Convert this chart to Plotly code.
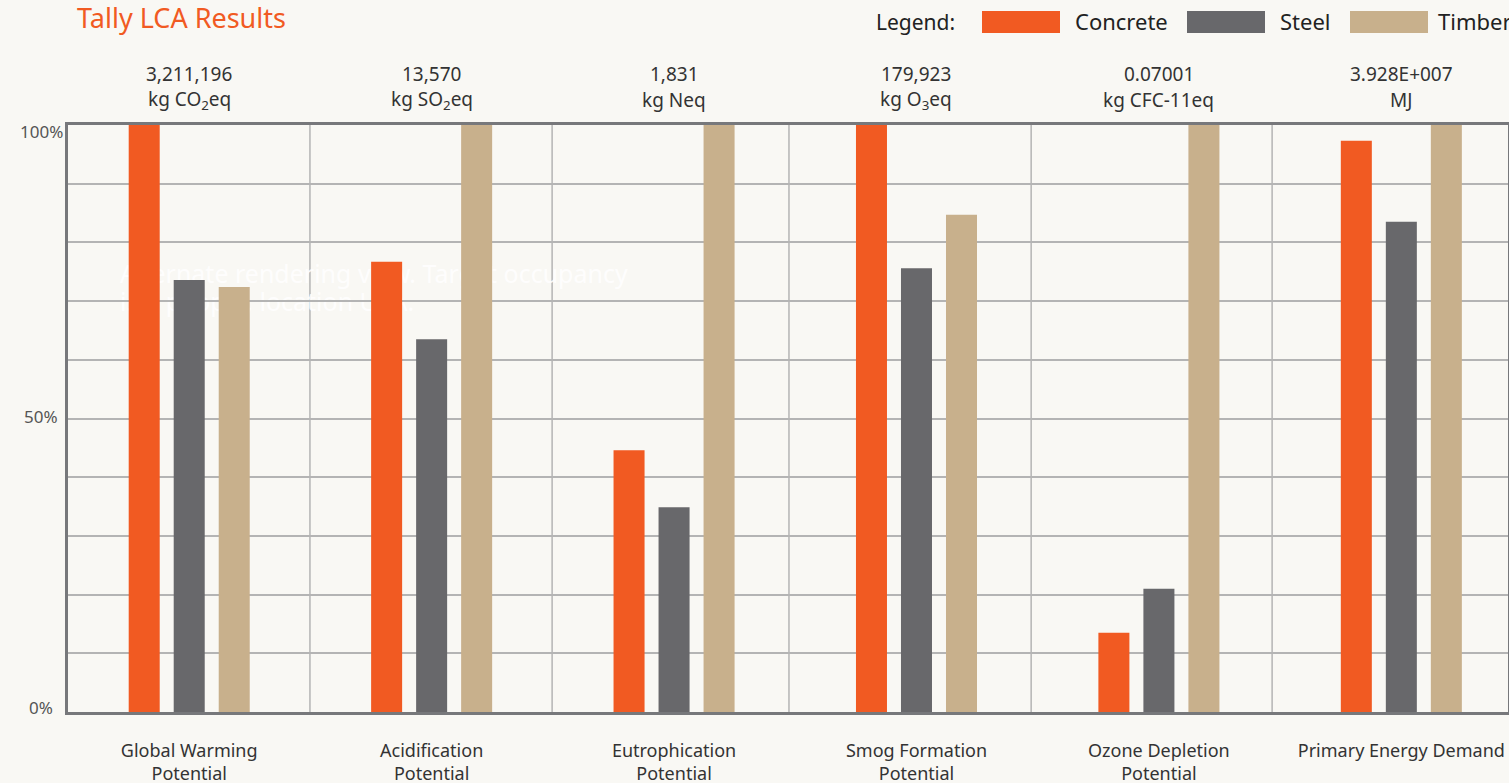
import plotly.graph_objects as go

categories = ["Global Warming<br>Potential", "Acidification<br>Potential", "Eutrophication<br>Potential",
              "Smog Formation<br>Potential", "Ozone Depletion<br>Potential", "Primary Energy Demand"]
totals = ["3,211,196", "13,570", "1,831", "179,923", "0.07001", "3.928E+007"]
units = ["kg CO<sub>2</sub>eq", "kg SO<sub>2</sub>eq", "kg Neq", "kg O<sub>3</sub>eq", "kg CFC-11eq", "MJ"]
concrete = [100, 76.7, 44.6, 100, 13.5, 97.3]
steel = [73.6, 63.5, 34.9, 75.6, 21.0, 83.5]
timber = [72.4, 100, 100, 84.7, 100, 100]
y_ticks = [0, 50, 100]
y_ticktext = ["0%", "50%", "100%"]
y_grid = [10, 20, 30, 40, 50, 60, 70, 80, 90]

series = [("Concrete", concrete, "#F15A22"), ("Steel", steel, "#68686B"), ("Timber", timber, "#C8B08C")]

# layout constants (category-divider lines, in axis units, as drawn in the original)
DIVIDERS = [0.498, 1.497, 2.474, 3.473, 4.467]
X_RANGE = [-0.5, 5.44]
TICK_SHIFT = [5, 2, -6]  # small vertical nudges of the y labels, as in the original

W, H = 1509, 783
L, R, T, B = 68, 1, 125, 71
PW, PH = W - L - R, H - T - B


def px(x):
    return (x - L) / PW


def py(y):
    return (H - B - y) / PH


BG = "#F9F8F4"
FONT = "Noto Sans"
xs = list(range(len(categories)))

fig = go.Figure()
for name, vals, col in series:
    fig.add_trace(go.Bar(x=xs, y=vals, name=name, marker=dict(color=col, line=dict(width=0)),
                         showlegend=False))

shapes = []
for d in DIVIDERS:
    shapes.append(dict(type="line", xref="x", yref="paper", x0=d, x1=d, y0=0, y1=1,
                       line=dict(color="#B4B4B4", width=1.5), layer="below"))

# watermark text (faint)
for txt, yy in [("Alternate rendering view. Target occupancy", 275), ("is 1 people, location USA.", 303)]:
    shapes.append(dict(type="rect", xref="paper", yref="paper", x0=px(117), x1=px(700), y0=py(yy - 14), y1=py(yy + 14),
                       line=dict(width=0), fillcolor="rgba(0,0,0,0)", layer="below",
                       label=dict(text=txt, textposition="middle left", padding=0,
                                  font=dict(family=FONT, size=25, color="rgba(255,255,255,0.85)"))))

annotations = []
for i in range(len(categories)):
    annotations.append(dict(x=i, xref="x", y=py(74), yref="paper", text=totals[i], showarrow=False,
                            font=dict(family=FONT, size=19, color="#333333"), xanchor="center", yanchor="middle"))
    annotations.append(dict(x=i, xref="x", y=py(100), yref="paper", text=units[i], showarrow=False,
                            font=dict(family=FONT, size=19, color="#333333"), xanchor="center", yanchor="middle"))

# y-axis labels (centred, as in the original)
for v, t, s in zip(y_ticks, y_ticktext, TICK_SHIFT):
    annotations.append(dict(x=px(41), xref="paper", y=v, yref="y", text=t, showarrow=False, yshift=s,
                            xanchor="center", yanchor="middle", font=dict(family=FONT, size=17, color="#555555")))

annotations.append(dict(x=px(75), y=py(18), xref="paper", yref="paper", text="Tally LCA Results", showarrow=False,
                        xanchor="left", yanchor="middle", font=dict(family=FONT, size=27, color="#F15A22")))
annotations.append(dict(x=px(874), y=py(22), xref="paper", yref="paper", text="Legend:", showarrow=False,
                        xanchor="left", yanchor="middle", font=dict(family=FONT, size=21, color="#222222")))
leg_pos = [(982, 1073), (1187, 1278), (1350, 1436)]
for (name, vals, col), (sx, tx) in zip(series, leg_pos):
    shapes.append(dict(type="rect", xref="paper", yref="paper", x0=px(sx), x1=px(sx + 78), y0=py(11), y1=py(33),
                       fillcolor=col, line=dict(width=0)))
    annotations.append(dict(x=px(tx), y=py(21), xref="paper", yref="paper", text=name, showarrow=False,
                            xanchor="left", yanchor="middle", font=dict(family=FONT, size=22, color="#222222")))

fig.update_layout(
    width=W, height=H,
    margin=dict(l=L, r=R, t=T, b=B, pad=0, autoexpand=False),
    paper_bgcolor=BG, plot_bgcolor=BG,
    barmode="group", bargap=0.443, bargroupgap=0.311,
    shapes=shapes, annotations=annotations,
    font=dict(family=FONT, color="#333333"),
)
fig.update_xaxes(range=X_RANGE, tickmode="array", tickvals=xs, ticktext=categories,
                 showgrid=False, zeroline=False, showline=True, mirror=True, linecolor="#77787B", linewidth=3,
                 ticks="", ticklabelstandoff=20, automargin=False,
                 tickfont=dict(family=FONT, size=18, color="#333333"))
fig.update_yaxes(range=[0, 100], tickmode="array", tickvals=y_ticks, showticklabels=False,
                 showgrid=True, gridcolor="#B4B4B4", gridwidth=1.5, zeroline=False, automargin=False,
                 minor=dict(tickmode="array", tickvals=y_grid, showgrid=True, gridcolor="#B4B4B4", gridwidth=1.5,
                            ticks=""),
                 showline=True, mirror=True, linecolor="#77787B", linewidth=3, ticks="")

fig.write_html("out.html", config={"displayModeBar": False},
               post_script="document.body.style.margin='0px';document.body.style.overflow='hidden';")
